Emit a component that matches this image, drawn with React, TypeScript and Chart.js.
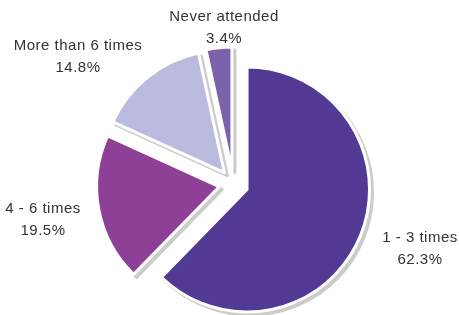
import { useEffect, useRef } from 'react';
import { Chart, registerables } from 'chart.js';

Chart.register(...registerables);

// ---- data ----
const categories = ['1 - 3 times', '4 - 6 times', 'More than 6 times', 'Never attended'];
const percentages = [62.3, 19.5, 14.8, 3.4];
const sliceColors = ['#523994', '#8e3f96', '#babbde', '#7b62ac'];

// ---- layout / style ----
const W = 459;
const H = 315;
const EXPLODE = 14.6;
const SHADOW_DX = 3;
const SHADOW_DY = 3;
const PIE_RADIUS = 122.5;
const FONT = '15px "Liberation Sans", Arial, Helvetica, sans-serif';
const TEXT_COLOR = '#333333';
const LINE_GAP = 22;
// label anchor (center x, first-line baseline y) for each category, in the same order
const labelAnchors: [number, number][] = [
  [420, 242],
  [43, 213],
  [78, 50],
  [224, 21],
];

const explodePlugin = {
  id: 'explodeShadow',
  beforeDatasetsDraw(chart: any) {
    const ctx: CanvasRenderingContext2D = chart.ctx;
    const arcs = chart.getDatasetMeta(0).data;
    const pass = (shadow: boolean) => {
      arcs.forEach((el: any) => {
        const mid = (el.startAngle + el.endAngle) / 2;
        ctx.save();
        ctx.translate(
          Math.cos(mid) * EXPLODE + (shadow ? SHADOW_DX : 0),
          Math.sin(mid) * EXPLODE + (shadow ? SHADOW_DY : 0)
        );
        if (shadow) ctx.filter = 'brightness(0) invert(0.8)';
        el.draw(ctx);
        ctx.restore();
      });
    };
    pass(true);
    pass(false);
    return false;
  },
  afterDraw(chart: any) {
    const ctx: CanvasRenderingContext2D = chart.ctx;
    ctx.save();
    ctx.font = FONT;
    (ctx as any).letterSpacing = '0.5px';
    ctx.fillStyle = TEXT_COLOR;
    ctx.textAlign = 'center';
    ctx.textBaseline = 'alphabetic';
    categories.forEach((c, i) => {
      const [x, y] = labelAnchors[i];
      ctx.fillText(c, x, y);
      ctx.fillText(percentages[i].toFixed(1) + '%', x, y + LINE_GAP);
    });
    ctx.restore();
  },
};

export default function App() {
  const canvasRef = useRef<HTMLCanvasElement | null>(null);

  useEffect(() => {
    if (!canvasRef.current) return;
    const chart = new Chart(canvasRef.current, {
      type: 'pie',
      data: {
        labels: categories,
        datasets: [
          {
            data: percentages,
            backgroundColor: sliceColors,
            borderColor: '#ffffff',
            borderWidth: 3,
            borderJoinStyle: 'round',
            radius: PIE_RADIUS,
            offset: 0,
            hoverOffset: 0,
          } as any,
        ],
      },
      options: {
        responsive: false,
        animation: false,
        events: [],
        layout: { padding: { left: 8, right: 0, top: 53, bottom: 0 } },
        plugins: {
          legend: { display: false },
          tooltip: { enabled: false },
        },
      },
      plugins: [explodePlugin],
    });
    return () => chart.destroy();
  }, []);

  return (
    <div style={{ position: 'fixed', left: 0, top: 0, width: W, height: H, background: '#ffffff' }}>
      <canvas ref={canvasRef} width={W} height={H} style={{ display: 'block' }} />
    </div>
  );
}
